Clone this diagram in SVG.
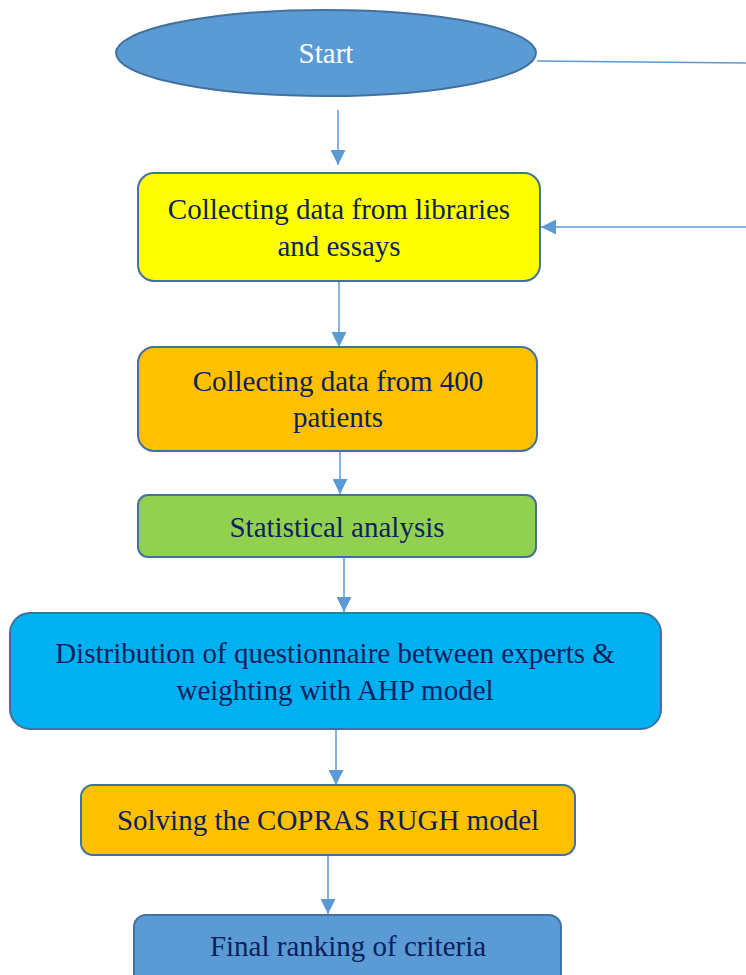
<svg xmlns="http://www.w3.org/2000/svg" width="746" height="975" viewBox="0 0 746 975">
<defs>
<marker id="ah" viewBox="0 0 10 10" refX="10" refY="5" markerWidth="15" markerHeight="15" markerUnits="userSpaceOnUse" orient="auto">
<path d="M0,0 L10,5 L0,10 z" fill="#5B9BD5"/>
</marker>
<style>
.n{stroke:#41719C;stroke-width:2}
.t{font-family:"Liberation Serif","Times New Roman",serif;font-size:29px;fill:#0D1F5C;text-anchor:middle}
.c{stroke:#5B9BD5;stroke-width:1.5;fill:none}
</style>
</defs>
<rect width="746" height="975" fill="#fff"/>
<g id="connectors">
<path class="c" d="M537,61 L746,63"/>
<path class="c" d="M338,110 L338,165" marker-end="url(#ah)"/>
<path class="c" d="M746,227 L541,227" marker-end="url(#ah)"/>
<path class="c" d="M339,282 L339,347" marker-end="url(#ah)"/>
<path class="c" d="M340,452 L340,494" marker-end="url(#ah)"/>
<path class="c" d="M344,558 L344,612" marker-end="url(#ah)"/>
<path class="c" d="M336,730 L336,785" marker-end="url(#ah)"/>
<path class="c" d="M328,856 L328,914" marker-end="url(#ah)"/>
</g>
<g id="start">
<ellipse class="n" cx="326" cy="53" rx="210" ry="43" fill="#5B9BD5"/>
<text class="t" x="326" y="63" style="fill:#fff">Start</text>
</g>
<g id="libraries">
<rect class="n" x="138" y="173" width="402" height="108" rx="16" fill="#FFFF00"/>
<text class="t" x="339" y="219">Collecting data from libraries</text>
<text class="t" x="339" y="256">and essays</text>
</g>
<g id="patients">
<rect class="n" x="138" y="347" width="399" height="104" rx="16" fill="#FFC000"/>
<text class="t" x="338" y="391">Collecting data from 400</text>
<text class="t" x="338" y="427">patients</text>
</g>
<g id="statistical">
<rect class="n" x="138" y="495" width="398" height="62" rx="10" fill="#92D050"/>
<text class="t" x="337" y="537">Statistical analysis</text>
</g>
<g id="distribution">
<rect class="n" x="10" y="613" width="651" height="116" rx="20" fill="#00B0F0"/>
<text class="t" x="335" y="663">Distribution of questionnaire between experts &amp;</text>
<text class="t" x="335" y="700">weighting with AHP model</text>
</g>
<g id="copras">
<rect class="n" x="81" y="785" width="494" height="70" rx="12" fill="#FFC000"/>
<text class="t" x="328" y="830">Solving the COPRAS RUGH model</text>
</g>
<g id="final">
<rect class="n" x="134" y="915" width="427" height="80" rx="12" fill="#5B9BD5"/>
<text class="t" x="348" y="956">Final ranking of criteria</text>
</g>
</svg>
